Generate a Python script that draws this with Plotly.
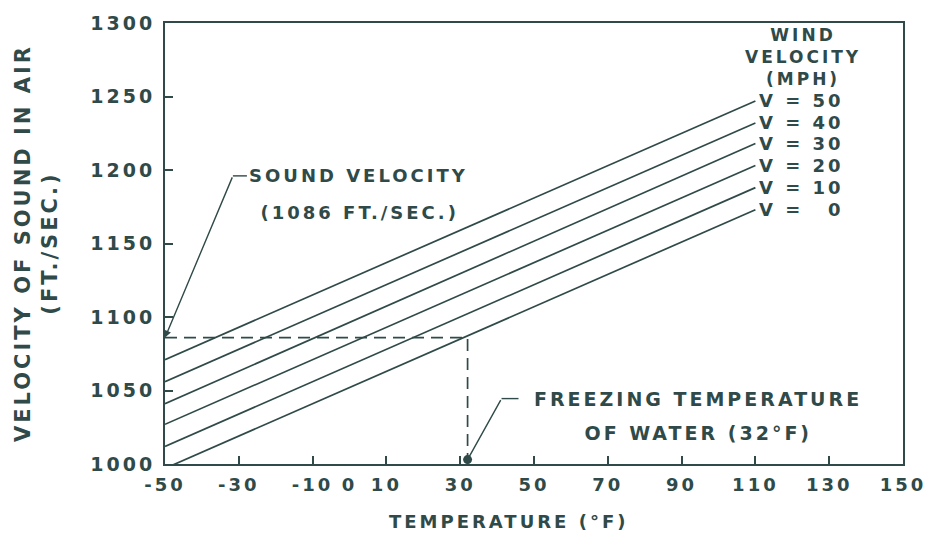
import plotly.graph_objects as go

# Wind-corrected speed of sound vs. air temperature
WIND_MPH = [0, 10, 20, 30, 40, 50]
TEMP_ENDS = [-50, 110]                                  # °F, where each line starts / ends
VEL_AT_START = [997, 1012, 1027, 1041, 1056, 1071]      # ft/s at -50 °F
VEL_AT_END = [1173, 1188, 1203, 1218, 1232, 1247]       # ft/s at 110 °F

SOUND_VELOCITY = 1086     # ft/s at freezing, still air
FREEZING_F = 32

X_RANGE = [-50, 150]
Y_RANGE = [1000, 1300]
X_TICK_LABELS = [-50, -30, -10, 0, 10, 30, 50, 70, 90, 110, 130, 150]
X_TICK_MARKS = [-50, -30, -10, 10, 30, 50, 70, 90, 110, 130, 150]
Y_TICKS = [1000, 1050, 1100, 1150, 1200, 1250, 1300]

INK = "#2f4a48"
FONT = "DejaVu Sans"


def bold(size):
    return dict(family=FONT, size=size, color=INK, weight="bold")


fig = go.Figure()

for v, y0, y1 in zip(WIND_MPH, VEL_AT_START, VEL_AT_END):
    fig.add_trace(go.Scatter(
        x=TEMP_ENDS, y=[y0, y1], mode="lines",
        line=dict(color=INK, width=1.7),
        name=f"V = {v}", showlegend=False, hoverinfo="skip",
    ))
    num = str(v) if v >= 10 else "\u2007" + str(v)
    fig.add_annotation(
        x=TEMP_ENDS[1], y=y1, text=f"V = {num}", showarrow=False,
        xanchor="left", yanchor="middle", xshift=11, font=bold(18),
    )

# dashed guide: 1086 ft/s at 32 °F
fig.add_trace(go.Scatter(
    x=[X_RANGE[0], FREEZING_F, FREEZING_F],
    y=[SOUND_VELOCITY, SOUND_VELOCITY, Y_RANGE[0]],
    mode="lines", line=dict(color=INK, width=1.7, dash="12px,7px"),
    xaxis="x2", showlegend=False, hoverinfo="skip",
))

# header over the line labels
fig.add_annotation(
    x=123, y=1277, text="WIND<br>VELOCITY<br>(MPH)", showarrow=False,
    xanchor="center", yanchor="middle", align="center", font=bold(17),
)

# "sound velocity" callout
fig.add_annotation(
    x=X_RANGE[0], y=SOUND_VELOCITY, ax=-31.6, ay=1196, axref="x", ayref="y",
    text="", showarrow=True, arrowhead=2, arrowsize=1, arrowwidth=1.4,
    arrowcolor=INK, standoff=0,
)
fig.add_shape(type="line", x0=-31.6, y0=1196, x1=-27.8, y1=1196,
              line=dict(color=INK, width=1.4))
fig.add_annotation(x=2.6, y=1196, text="SOUND VELOCITY", showarrow=False,
                   xanchor="center", yanchor="middle", font=bold(18))
fig.add_annotation(x=2.6, y=1171, text=f"({SOUND_VELOCITY} FT./SEC.)",
                   showarrow=False, xanchor="center", yanchor="middle",
                   font=bold(18))

# "freezing temperature" callout
fig.add_annotation(
    x=FREEZING_F, y=Y_RANGE[0] + 3, ax=41.2, ay=1044.5, axref="x", ayref="y",
    text="", showarrow=True, arrowhead=6, arrowsize=1.6, arrowwidth=1.4,
    arrowcolor=INK, standoff=0,
)
fig.add_shape(type="line", x0=41.2, y0=1044.5, x1=45.8, y1=1044.5,
              line=dict(color=INK, width=1.4))
fig.add_annotation(x=94.5, y=1044.5, text="FREEZING TEMPERATURE",
                   showarrow=False, xanchor="center", yanchor="middle",
                   font=bold(19))
fig.add_annotation(x=94.5, y=1021, text=f"OF WATER ({FREEZING_F}°F)",
                   showarrow=False, xanchor="center", yanchor="middle",
                   font=bold(19))

# axis titles
fig.add_annotation(
    xref="paper", yref="paper", x=0.4656, y=-0.130,
    text="TEMPERATURE (°F)", showarrow=False,
    xanchor="center", yanchor="middle", font=bold(18),
)
fig.add_annotation(
    xref="paper", yref="paper", x=-0.1741, y=0.5, textangle=-90,
    text="VELOCITY OF SOUND IN AIR<br>(FT./SEC.)", showarrow=False,
    xanchor="center", yanchor="middle", align="center", font=bold(21),
)

fig.update_layout(
    width=934, height=539,
    margin=dict(l=165, r=28, t=18, b=75),
    paper_bgcolor="white", plot_bgcolor="white",
    xaxis=dict(
        range=X_RANGE, showgrid=False, zeroline=False,
        showline=True, mirror=True, linecolor=INK, linewidth=2,
        tickmode="array", tickvals=X_TICK_LABELS,
        ticktext=[str(t) for t in X_TICK_LABELS],
        ticks="", tickfont=bold(18), ticklabelstandoff=3,
    ),
    xaxis2=dict(
        range=X_RANGE, overlaying="x", anchor="y", side="bottom",
        showgrid=False, zeroline=False, showline=False,
        tickmode="array", tickvals=X_TICK_MARKS, showticklabels=False,
        ticks="inside", ticklen=8, tickwidth=1.5, tickcolor=INK,
    ),
    yaxis=dict(
        range=Y_RANGE, showgrid=False, zeroline=False,
        showline=True, mirror=True, linecolor=INK, linewidth=2,
        tickmode="array", tickvals=Y_TICKS,
        ticks="inside", ticklen=8, tickwidth=1.5, tickcolor=INK,
        tickfont=bold(19), ticklabelstandoff=4,
    ),
)

# wide letter tracking, as on the printed chart
spread_js = """
(function(){
  function spread(){
    document.querySelectorAll('.xtick text, .ytick text').forEach(function(t){
      t.style.letterSpacing = '3px';
    });
    document.querySelectorAll('.annotation-text').forEach(function(t){
      t.style.letterSpacing = '3px';
    });
  }
  spread(); setTimeout(spread, 50); setTimeout(spread, 400);
})();
"""

fig.write_html("out.html", post_script=spread_js)
